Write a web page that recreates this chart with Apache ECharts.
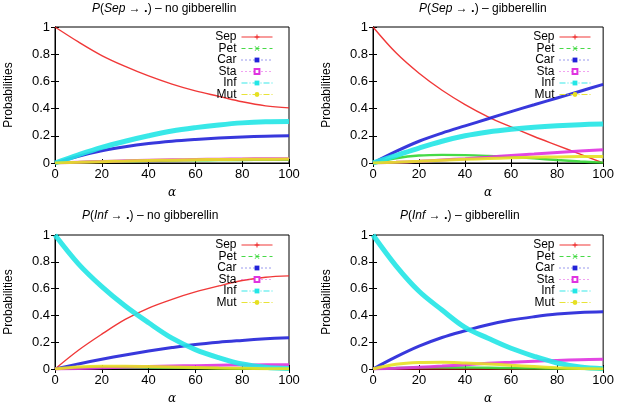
<!DOCTYPE html>
<html>
<head>
<meta charset="utf-8">
<script src="https://cdn.jsdelivr.net/npm/echarts@6/dist/echarts.min.js"></script>
<style>html,body{margin:0;padding:0;background:#fff}#c{width:617px;height:406px}</style>
</head>
<body>
<div id="c"></div>
<script>
// alpha sample positions
const alphas = [0, 10, 20, 30, 40, 50, 60, 70, 80, 90, 100];
const names = ['Sep', 'Pet', 'Car', 'Sta', 'Inf', 'Mut'];
const xTicks = [0, 20, 40, 60, 80, 100];
const yTicks = [0, 0.2, 0.4, 0.6, 0.8, 1];

// Panel 1: P(Sep -> .) - no gibberellin
const p1Sep = [1.0, 0.89, 0.79, 0.71, 0.64, 0.58, 0.53, 0.49, 0.45, 0.42, 0.405];
const p1Pet = [0, 0.005, 0.01, 0.013, 0.016, 0.018, 0.02, 0.021, 0.022, 0.023, 0.023];
const p1Car = [0, 0.05, 0.09, 0.12, 0.143, 0.16, 0.173, 0.184, 0.192, 0.197, 0.20];
const p1Sta = [0, 0.006, 0.011, 0.016, 0.02, 0.023, 0.026, 0.028, 0.03, 0.031, 0.032];
const p1Inf = [0, 0.06, 0.115, 0.16, 0.20, 0.235, 0.26, 0.28, 0.295, 0.303, 0.305];
const p1Mut = [0, 0.005, 0.01, 0.014, 0.018, 0.021, 0.024, 0.026, 0.027, 0.028, 0.029];

// Panel 2: P(Sep -> .) - gibberellin
const p2Sep = [1.0, 0.81, 0.66, 0.535, 0.43, 0.34, 0.265, 0.195, 0.13, 0.065, 0.0];
const p2Pet = [0, 0.035, 0.055, 0.06, 0.058, 0.052, 0.044, 0.034, 0.022, 0.011, 0.003];
const p2Car = [0, 0.085, 0.16, 0.22, 0.273, 0.325, 0.378, 0.428, 0.478, 0.528, 0.578];
const p2Sta = [0, 0.005, 0.012, 0.022, 0.032, 0.043, 0.055, 0.066, 0.077, 0.088, 0.098];
const p2Inf = [0, 0.055, 0.11, 0.16, 0.20, 0.228, 0.248, 0.263, 0.274, 0.282, 0.287];
const p2Mut = [0, 0.005, 0.012, 0.02, 0.027, 0.033, 0.038, 0.042, 0.045, 0.047, 0.048];

// Panel 3: P(Inf -> .) - no gibberellin
const p3Sep = [0, 0.14, 0.26, 0.37, 0.455, 0.52, 0.575, 0.62, 0.66, 0.685, 0.695];
const p3Pet = [0, 0.008, 0.012, 0.013, 0.012, 0.01, 0.008, 0.006, 0.004, 0.002, 0.001];
const p3Car = [0, 0.038, 0.073, 0.105, 0.134, 0.16, 0.183, 0.2, 0.213, 0.225, 0.234];
const p3Sta = [0, 0.004, 0.009, 0.014, 0.018, 0.022, 0.025, 0.028, 0.03, 0.031, 0.032];
const p3Inf = [1.0, 0.785, 0.615, 0.47, 0.345, 0.23, 0.145, 0.085, 0.037, 0.013, 0.003];
const p3Mut = [0, 0.015, 0.02, 0.02, 0.018, 0.015, 0.012, 0.008, 0.005, 0.002, 0.001];

// Panel 4: P(Inf -> .) - gibberellin
const p4Sep = [0, 0, 0, 0, 0, 0, 0, 0, 0, 0, 0];
const p4Pet = [0, 0.008, 0.012, 0.012, 0.011, 0.009, 0.007, 0.005, 0.003, 0.001, 0];
const p4Car = [0, 0.09, 0.17, 0.235, 0.285, 0.33, 0.365, 0.39, 0.41, 0.422, 0.427];
const p4Sta = [0, 0.005, 0.013, 0.022, 0.032, 0.042, 0.05, 0.058, 0.064, 0.069, 0.072];
const p4Inf = [1.0, 0.77, 0.58, 0.44, 0.31, 0.23, 0.155, 0.095, 0.045, 0.015, 0.002];
const p4Mut = [0, 0.035, 0.048, 0.05, 0.045, 0.038, 0.028, 0.018, 0.009, 0.003, 0];

const panels = [
  {from: 'Sep', cond: 'no gibberellin', data: [p1Sep, p1Pet, p1Car, p1Sta, p1Inf, p1Mut]},
  {from: 'Sep', cond: 'gibberellin', data: [p2Sep, p2Pet, p2Car, p2Sta, p2Inf, p2Mut]},
  {from: 'Inf', cond: 'no gibberellin', data: [p3Sep, p3Pet, p3Car, p3Sta, p3Inf, p3Mut]},
  {from: 'Inf', cond: 'gibberellin', data: [p4Sep, p4Pet, p4Car, p4Sta, p4Inf, p4Mut]}
];

const FONT = '"Liberation Sans", Arial, Helvetica, sans-serif';
const colors = ['#ee2222', '#33d633', '#2222d8', '#e033e0', '#22e6e6', '#e6e022'];
const widths = [1.4, 2.4, 3, 3, 5, 3];
const symbols = [
  'path://M4,0h2v4h4v2h-4v4h-2v-4h-4v-2h4z',
  'path://M1,0L5,4L9,0L10,1L6,5L10,9L9,10L5,6L1,10L0,9L4,5L0,1Z',
  'rect', 'emptyRect', 'rect', 'circle'
];
const legendLine = ['solid', [4, 3], [1, 3], [1, 3], [6, 2, 1, 2], [6, 2, 1, 2]];

const gridPos = [
  {left: 55, top: 27, width: 234, height: 136},
  {left: 373, top: 27, width: 233, height: 136},
  {left: 55, top: 235, width: 234, height: 137},
  {left: 373, top: 235, width: 233, height: 137}
];
const titlePos = [{left: 92, top: 2}, {left: 419, top: 2}, {left: 82, top: 209}, {left: 400, top: 209}];
const legendPos = [{right: 344, top: 31}, {right: 26, top: 31}, {right: 344, top: 239}, {right: 26, top: 239}];

const option = {
  animation: false,
  backgroundColor: '#fff',
  textStyle: {fontFamily: FONT},
  title: [], grid: [], xAxis: [], yAxis: [], legend: [], series: []
};

panels.forEach((p, gi) => {
  option.grid.push(Object.assign({show: true, borderColor: '#000', borderWidth: 1, backgroundColor: 'transparent'}, gridPos[gi]));
  option.title.push(Object.assign({
    padding: 0,
    text: '{i|P}(' + '{i|' + p.from + '} → {b|.}) – ' + p.cond,
    textStyle: {
      fontFamily: FONT, fontSize: 12, fontWeight: 'normal', color: '#000',
      rich: {
        i: {fontFamily: FONT, fontSize: 12, fontStyle: 'italic', color: '#000'},
        b: {fontFamily: FONT, fontSize: 13, fontWeight: 'bold', color: '#000'}
      }
    }
  }, titlePos[gi]));
  const tickCommon = {show: true, inside: true, length: 4, lineStyle: {color: '#000', width: 1}};
  option.xAxis.push({
    type: 'value', gridIndex: gi, min: xTicks[0], max: xTicks[xTicks.length - 1], interval: xTicks[1] - xTicks[0],
    name: 'α', nameLocation: 'middle', nameGap: 24,
    nameTextStyle: {fontFamily: 'DejaVu Serif, serif', fontStyle: 'italic', fontSize: 12, color: '#000'},
    axisLine: {show: true, lineStyle: {color: '#000', width: 1}},
    axisTick: tickCommon, splitLine: {show: false},
    axisLabel: {color: '#000', fontSize: 13, fontFamily: FONT, margin: 5}
  });
  option.xAxis.push({
    type: 'value', gridIndex: gi, position: 'top', min: xTicks[0], max: xTicks[xTicks.length - 1], interval: xTicks[1] - xTicks[0],
    axisLine: {show: true, lineStyle: {color: '#000', width: 1}},
    axisTick: tickCommon, splitLine: {show: false}, axisLabel: {show: false}
  });
  option.yAxis.push({
    type: 'value', gridIndex: gi, min: yTicks[0], max: yTicks[yTicks.length - 1], interval: yTicks[1] - yTicks[0],
    name: 'Probabilities', nameLocation: 'middle', nameGap: 40, nameRotate: 90,
    nameTextStyle: {fontFamily: FONT, fontSize: 12, color: '#000'},
    axisLine: {show: true, lineStyle: {color: '#000', width: 1}},
    axisTick: tickCommon, splitLine: {show: false},
    axisLabel: {color: '#000', fontSize: 13, fontFamily: FONT, margin: 5}
  });
  option.yAxis.push({
    type: 'value', gridIndex: gi, position: 'right', min: yTicks[0], max: yTicks[yTicks.length - 1], interval: yTicks[1] - yTicks[0],
    axisLine: {show: true, lineStyle: {color: '#000', width: 1}},
    axisTick: tickCommon, splitLine: {show: false}, axisLabel: {show: false}
  });
  option.legend.push(Object.assign({
    orient: 'vertical', align: 'right', padding: 0, itemGap: -0.5,
    itemWidth: 31, itemHeight: 6, selectedMode: false,
    textStyle: {fontFamily: FONT, fontSize: 12, color: '#000'},
    data: names.map((n, k) => ({name: n, lineStyle: {width: 1, type: legendLine[k], color: colors[k]}}))
  }, legendPos[gi]));
  p.data.forEach((vals, k) => {
    option.series.push({
      type: 'line', name: names[k], xAxisIndex: gi * 2, yAxisIndex: gi * 2,
      data: alphas.map((a, j) => [a, vals[j]]),
      smooth: 0.35,
      symbol: symbols[k], showSymbol: false, symbolSize: 5,
      itemStyle: {color: colors[k], borderWidth: 0},
      lineStyle: {color: colors[k], width: widths[k], opacity: 0.9},
      clip: true, silent: true
    });
  });
});

const chart = echarts.init(document.getElementById('c'), null, {renderer: 'canvas'});
chart.setOption(option);
</script>
</body>
</html>
